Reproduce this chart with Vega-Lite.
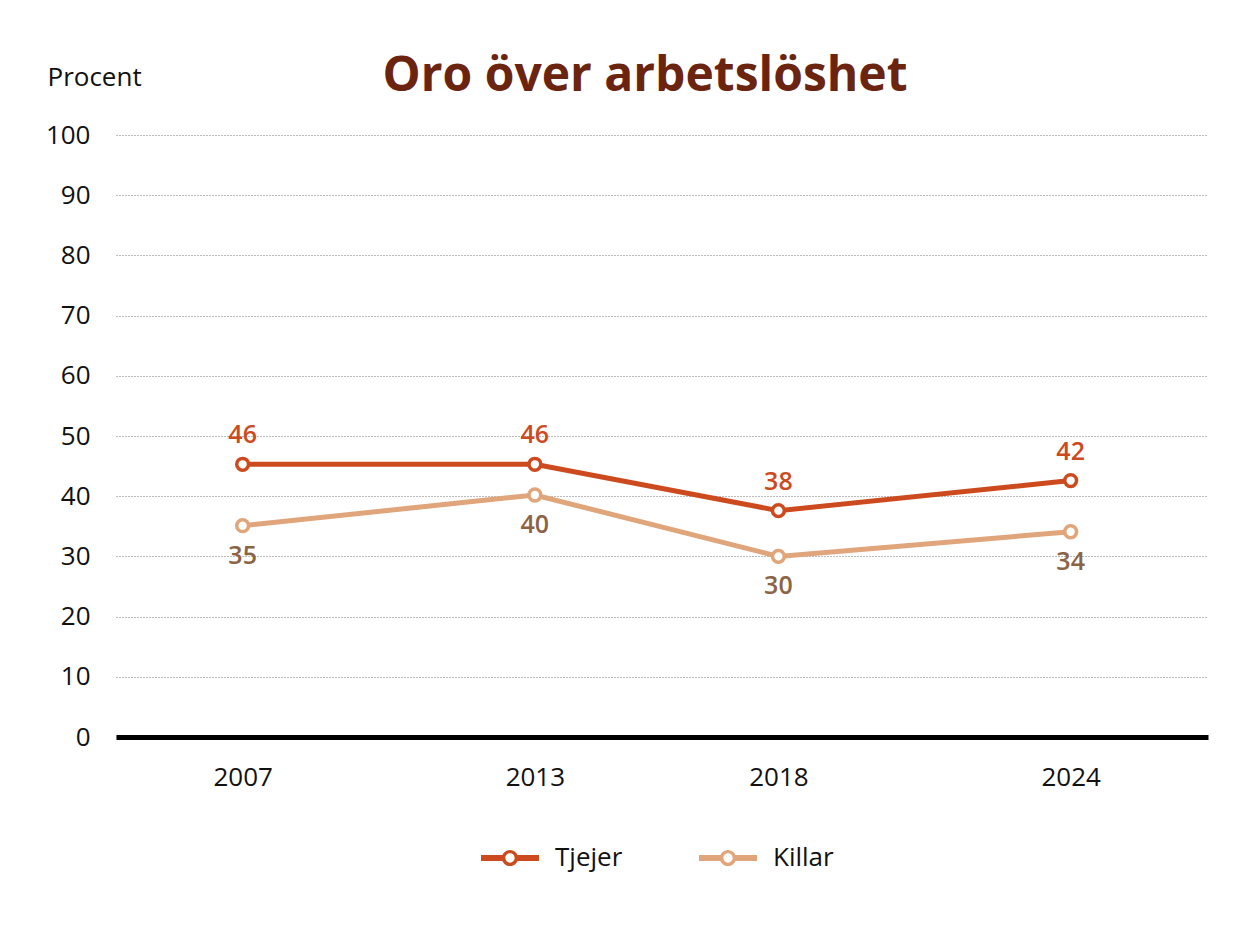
{
  "$schema": "https://vega.github.io/schema/vega-lite/v6.json",
  "width": 1092,
  "height": 602,
  "autosize": {"type": "none"},
  "padding": {"left": 116, "top": 135, "right": 47, "bottom": 196},
  "background": "white",
  "config": {"font": "Open Sans", "view": {"stroke": null}},
  "title": {"text": "Oro över arbetslöshet", "fontSize": 48, "fontWeight": "bold", "color": "#6b2410", "anchor": "middle", "frame": "group", "dx": -17, "dy": 67, "offset": 30},
  "data": {"values": [
    {"year": 2007, "series": "Tjejer", "value": 45.3, "label": "46"},
    {"year": 2013, "series": "Tjejer", "value": 45.3, "label": "46"},
    {"year": 2018, "series": "Tjejer", "value": 37.6, "label": "38"},
    {"year": 2024, "series": "Tjejer", "value": 42.6, "label": "42"},
    {"year": 2007, "series": "Killar", "value": 35.1, "label": "35"},
    {"year": 2013, "series": "Killar", "value": 40.2, "label": "40"},
    {"year": 2018, "series": "Killar", "value": 30.0, "label": "30"},
    {"year": 2024, "series": "Killar", "value": 34.1, "label": "34"}
  ]},
  "encoding": {
    "x": {"field": "year", "type": "quantitative",
      "scale": {"domain": [2004.4, 2026.82], "nice": false, "zero": false},
      "axis": {"values": [2007, 2013, 2018, 2024], "format": "d", "title": null, "grid": false, "ticks": false, "domainColor": "#000000", "domainWidth": 5, "labelFontSize": 26, "labelColor": "#111111", "labelPadding": 27, "labelFlush": false}},
    "y": {"field": "value", "type": "quantitative",
      "scale": {"domain": [0, 100], "nice": false},
      "axis": {"values": [0, 10, 20, 30, 40, 50, 60, 70, 80, 90, 100], "title": "Procent", "titleAngle": 0, "titleAlign": "left", "titleBaseline": "alphabetic", "titleX": -69, "titleY": -50, "titleFontSize": 26, "titleFontWeight": "normal", "titleColor": "#111111", "grid": true, "gridDash": [1, 2], "gridColor": "#777777", "gridWidth": 1, "domain": false, "ticks": false, "labelFontSize": 26, "labelPadding": 26, "labelColor": "#111111"}}
  },
  "layer": [
    {"mark": {"type": "line", "strokeWidth": 5},
     "encoding": {"color": {"field": "series", "type": "nominal",
       "scale": {"domain": ["Tjejer", "Killar"], "range": ["#cc4a1e", "#e0a57a"]},
       "legend": {"title": null, "orient": "none", "legendX": 365, "legendY": 694, "direction": "horizontal",
         "symbolType": "M-1,-0.1L-0.25,-0.1L-0.25,0.1L-1,0.1ZM0.25,-0.1L1,-0.1L1,0.1L0.25,0.1ZM0.28,0A0.28,0.28 0 1,1 -0.28,0A0.28,0.28 0 1,1 0.28,0ZM0.16,0A0.16,0.16 0 1,0 -0.16,0A0.16,0.16 0 1,0 0.16,0Z",
         "symbolSize": 3364, "symbolStrokeWidth": 0, "labelFontSize": 26, "labelColor": "#111111", "labelOffset": 16, "columnPadding": 76,
         "encode": {"symbols": {"update": {"fill": {"scale": "color", "field": "value"}, "stroke": {"value": "transparent"}, "opacity": {"value": 1}}}}}}}},
    {"mark": {"type": "point", "shape": "circle", "filled": false, "fill": "white", "size": 140, "strokeWidth": 3.5, "opacity": 1},
     "encoding": {"color": {"field": "series", "type": "nominal"}}},
    {"transform": [{"filter": "datum.series === 'Tjejer'"}],
     "mark": {"type": "text", "dy": -29, "fontSize": 25, "fontWeight": 600, "color": "#cc4a1e"},
     "encoding": {"text": {"field": "label"}}},
    {"transform": [{"filter": "datum.series === 'Killar'"}],
     "mark": {"type": "text", "dy": 30, "fontSize": 25, "fontWeight": 600, "color": "#8b6446"},
     "encoding": {"text": {"field": "label"}}}
  ]
}
